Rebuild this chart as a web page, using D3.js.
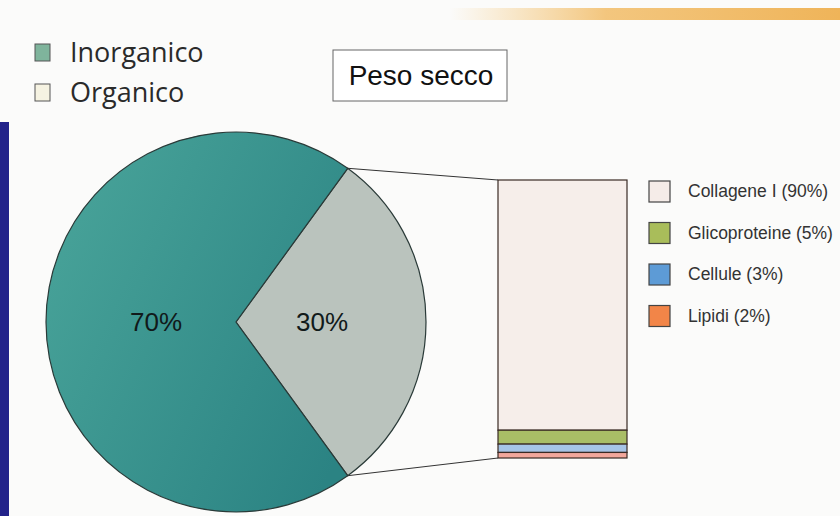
<!DOCTYPE html>
<html><head><meta charset="utf-8">
<script src="https://cdn.jsdelivr.net/npm/d3@7"></script>
<style>html,body{margin:0;padding:0;background:#fbfbfa;}svg{display:block;}</style>
</head><body>
<svg id="c" width="840" height="516"></svg>
<script>
// ---- data ----
const pieCategories = ["Organico", "Inorganico"];
const pieValues = [30, 70];
const pieLabels = ["30%", "70%"];
const pieColors = ["#bac3bd", "url(#teal)"];
const legendColorsTop = ["#7fb49c", "#f6f3e2"];
const topLegendOrder = ["Inorganico", "Organico"];

const barCategories = ["Collagene I", "Glicoproteine", "Cellule", "Lipidi"];
const barValues = [90, 5, 3, 2];
const barFill = ["#f6eeea", "#a9bd66", "#a6c4e6", "#f2a79c"];
const legendFill = ["#f5ece8", "#a9bd5a", "#5d9bd6", "#f28548"];
const title = "Peso secco";

const svg = d3.select("#c");
const defs = svg.append("defs");
const g1 = defs.append("linearGradient").attr("id","teal").attr("x1","0").attr("x2","1").attr("y1","0.2").attr("y2","0.8");
g1.append("stop").attr("offset","0").attr("stop-color","#48a399");
g1.append("stop").attr("offset","1").attr("stop-color","#2b8383");
const g2 = defs.append("linearGradient").attr("id","stripe").attr("x1","0").attr("x2","1");
g2.append("stop").attr("offset","0").attr("stop-color","#f4c778").attr("stop-opacity","0");
g2.append("stop").attr("offset","0.4").attr("stop-color","#f2c070").attr("stop-opacity","0.9");
g2.append("stop").attr("offset","1").attr("stop-color","#efb459");

// page decorations (photo)
svg.append("rect").attr("x",450).attr("y",8).attr("width",390).attr("height",12).attr("fill","url(#stripe)");
svg.append("rect").attr("x",0).attr("y",122).attr("width",9).attr("height",394).attr("fill","#22228a");

// ---- top-left legend ----
const tl = svg.append("g").attr("transform","translate(35,44)");
topLegendOrder.forEach((name,i)=>{
  const row = tl.append("g").attr("transform",`translate(0,${i*40})`);
  row.append("rect").attr("width",15).attr("height",17).attr("fill",legendColorsTop[i]).attr("stroke","#555").attr("stroke-width",1);
  row.append("text").attr("x",35).attr("y",8).attr("dy","0.36em")
    .attr("font-family","'Open Sans', 'Noto Sans', sans-serif").attr("font-size",27).attr("fill","#2a2a2a").text(name);
});

// ---- title box ----
svg.append("rect").attr("x",333).attr("y",50).attr("width",174).attr("height",51).attr("fill","#fff").attr("stroke","#666").attr("stroke-width",1);
svg.append("text").attr("x",421).attr("y",75).attr("dy","0.36em").attr("text-anchor","middle")
  .attr("font-family","'Liberation Sans', Arial, sans-serif").attr("font-size",28).attr("fill","#111").text(title);

// ---- pie ----
const cx = 236, cy = 322, r = 190;
const pie = d3.pie().sort(null).startAngle(0.2*Math.PI).endAngle(2.2*Math.PI);
const arcs = pie(pieValues);
const arc = d3.arc().innerRadius(0).outerRadius(r);
const pg = svg.append("g").attr("transform",`translate(${cx},${cy})`);
pg.selectAll("path").data(arcs).join("path").attr("d",arc)
  .attr("fill",(d,i)=>pieColors[i]).attr("stroke","#2a3a38").attr("stroke-width",1.2);
pg.selectAll("text").data(arcs).join("text")
  .attr("x",d=>d.index===0 ? 86 : -80)
  .attr("y",0).attr("dy","0.36em").attr("text-anchor","middle")
  .attr("font-family","'Liberation Sans', Arial, sans-serif").attr("font-size",26).attr("fill","#111a1a")
  .text((d,i)=>pieLabels[i]);

// ---- stacked bar ----
const bx = 498, bw = 129, btop = 180, bbot = 458;
const y = d3.scaleLinear().domain([0, d3.sum(barValues)]).range([btop, bbot]);
let acc = 0;
const segs = barValues.map((v,i)=>{ const s = {i, y0: acc, y1: acc+v}; acc += v; return s; });
svg.append("g").selectAll("rect").data(segs).join("rect")
  .attr("x",bx).attr("y",d=>y(d.y0)).attr("width",bw).attr("height",d=>y(d.y1)-y(d.y0))
  .attr("fill",d=>barFill[d.i]).attr("stroke","#3a2a24").attr("stroke-width",1.2);

// connector lines
const a0 = arcs[0];
const p1 = [cx + r*Math.sin(a0.startAngle), cy - r*Math.cos(a0.startAngle)];
const p2 = [cx + r*Math.sin(a0.endAngle), cy - r*Math.cos(a0.endAngle)];
svg.append("line").attr("x1",p1[0]).attr("y1",p1[1]).attr("x2",bx).attr("y2",y(0)).attr("stroke","#333").attr("stroke-width",1);
svg.append("line").attr("x1",p2[0]).attr("y1",p2[1]).attr("x2",bx).attr("y2",y(d3.sum(barValues))).attr("stroke","#333").attr("stroke-width",1);

// ---- right legend ----
const rl = svg.append("g").attr("transform","translate(649,181)");
barCategories.forEach((name,i)=>{
  const row = rl.append("g").attr("transform",`translate(0,${i*41.5})`);
  row.append("rect").attr("width",21).attr("height",21).attr("fill",legendFill[i]).attr("stroke","#444").attr("stroke-width",1.2);
  row.append("text").attr("x",39).attr("y",10).attr("dy","0.36em")
    .attr("font-family","'Liberation Sans', Arial, sans-serif").attr("font-size",17.5).attr("fill","#333")
    .text(`${name} (${barValues[i]}%)`);
});
</script>
</body></html>
